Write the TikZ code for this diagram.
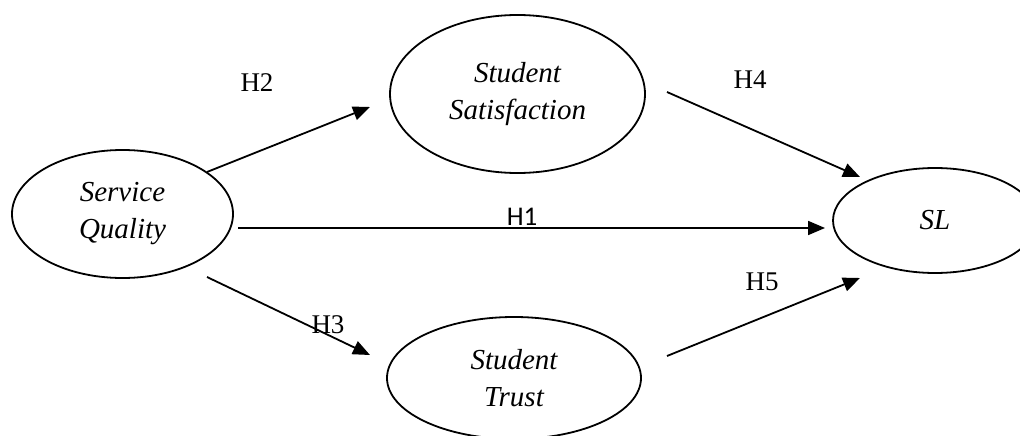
\documentclass[tikz,border=0pt]{standalone}
\usepackage{fontspec}
\setmainfont{Liberation Serif}
\newfontfamily\calibri{Carlito}
\usetikzlibrary{arrows.meta,shapes.geometric}
\begin{document}
\begin{tikzpicture}[x=1pt,y=-1pt,
  latent/.style={draw, line width=1.8pt, ellipse, inner sep=0pt, align=center,
    font=\fontsize{29}{37}\selectfont\itshape},
  arr/.style={line width=1.8pt, -{Triangle[length=17pt,width=14pt]}},
  hyp/.style={font=\fontsize{27}{30}\selectfont, inner sep=0pt}]
\useasboundingbox (0,0) rectangle (1020,436);
\clip (0,0) rectangle (1020,436);
\node[latent, minimum width=221pt, minimum height=128pt] (sq) at (122.5,214) {Service\\Quality};
\node[latent, minimum width=255pt, minimum height=158pt] (sat) at (517.5,94) {Student\\Satisfaction};
\node[latent, minimum width=254pt, minimum height=122pt] (trust) at (514,378) {Student\\Trust};
\node[latent, minimum width=204pt, minimum height=105pt] (sl) at (935,220.5) {SL};

\coordinate (h2a) at (207,172); \coordinate (h2b) at (370,107);
\coordinate (h4a) at (667,92);  \coordinate (h4b) at (860,177);
\coordinate (h1a) at (238,228); \coordinate (h1b) at (825,228);
\coordinate (h3a) at (207,277); \coordinate (h3b) at (370,355);
\coordinate (h5a) at (667,356); \coordinate (h5b) at (860,278);

\draw[arr] (h2a) -- (h2b);
\draw[arr] (h4a) -- (h4b);
\draw[arr] (h1a) -- (h1b);
\draw[arr] (h3a) -- (h3b);
\draw[arr] (h5a) -- (h5b);

\node[hyp] (l2) at (257,83) {H2};
\node[hyp] (l4) at (750,80) {H4};
\node[hyp, font=\fontsize{27}{30}\selectfont\calibri] (l1) at (522,217) {H1};
\node[hyp] (l3) at (328,325) {H3};
\node[hyp] (l5) at (762,282) {H5};
\end{tikzpicture}
\end{document}
